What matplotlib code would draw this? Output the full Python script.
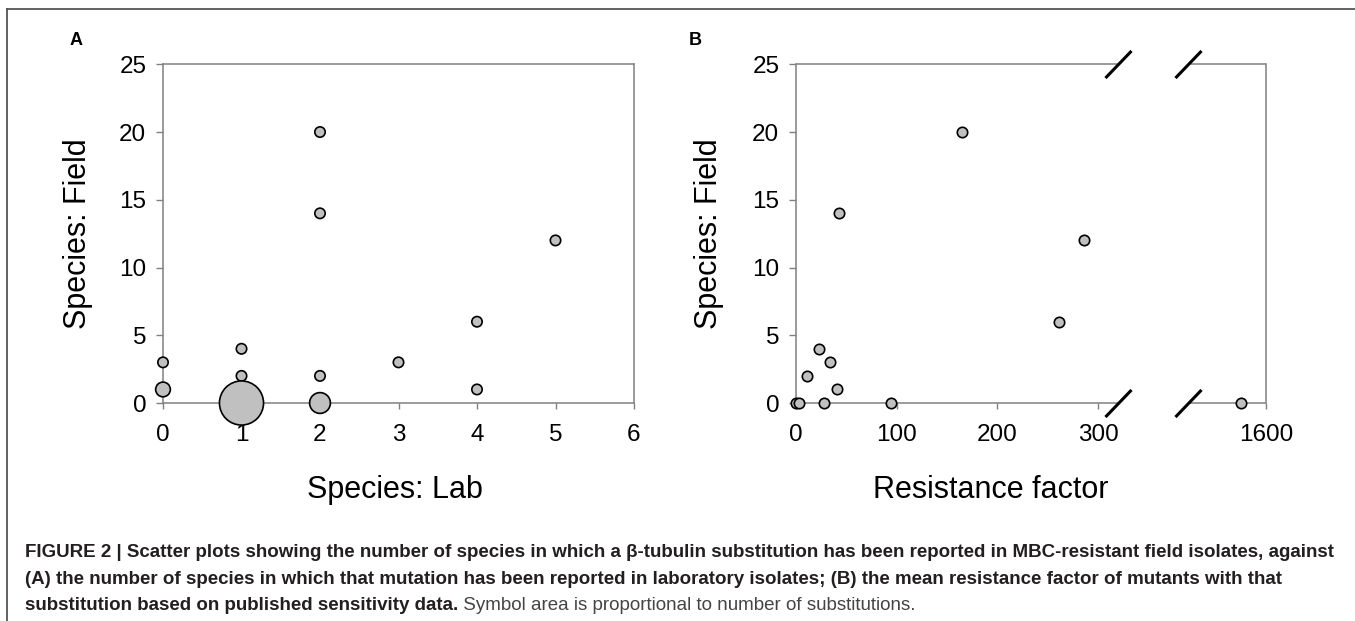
import numpy as np
import matplotlib
matplotlib.use("Agg")
import matplotlib.pyplot as plt
from matplotlib.lines import Line2D
import matplotlib.transforms as mtransforms

# ---------------- data ----------------
lab_species = [0, 0, 1, 1, 1, 2, 2, 2, 2, 3, 4, 4, 5]
field_species_a = [3, 1, 4, 2, 0, 20, 14, 2, 0, 3, 6, 1, 12]
substitutions_a = [1, 2, 1, 1, 18, 1, 1, 1, 4, 1, 1, 1, 1]

resistance_factor = [0, 3, 11, 23, 34, 41, 43, 28, 94, 165, 261, 286, 1380]
field_species_b = [0, 0, 2, 4, 3, 1, 14, 0, 0, 20, 6, 12, 0]

x_ticks_a = [0, 1, 2, 3, 4, 5, 6]
x_ticks_b = [0, 100, 200, 300, 1600]
y_ticks = [0, 5, 10, 15, 20, 25]

# ---------------- style ----------------
FONT = ["Liberation Sans", "DejaVu Sans"]
plt.rcParams["font.family"] = FONT
SPINE = "#808080"
FILL = "#c0c0c0"
BASE_S = 56  # marker area (pt^2) for one substitution
TICK_FS = 17.5

W, H = 1355, 621
fig = plt.figure(figsize=(W / 100, H / 100), dpi=100)


def fx(px):
    return px / W


def fy(py):
    return (H - py) / H


# broken x-scale for panel B
BRK = 320.0
K = (466.7 - BRK) / (1600 - BRK)


def fwd(v):
    v = np.asarray(v, dtype=float)
    return np.where(v <= BRK, v, BRK + (v - BRK) * K)


def inv(d):
    d = np.asarray(d, dtype=float)
    return np.where(d <= BRK, d, BRK + (d - BRK) / K)


def style_axes(ax):
    for s in ax.spines.values():
        s.set_color(SPINE)
        s.set_linewidth(1.1)
    ax.tick_params(axis="x", direction="out", length=4, width=1.0, color=SPINE,
                   labelsize=TICK_FS, pad=11)
    ax.tick_params(axis="y", direction="out", length=5, width=1.0, color=SPINE,
                   labelsize=TICK_FS, pad=7)
    ax.set_ylim(0, 25)
    ax.set_yticks(y_ticks)


# ---------------- panel A ----------------
axA = fig.add_axes([fx(163), fy(403), fx(634) - fx(163), fy(64.3) - fy(403)])
style_axes(axA)
axA.scatter(lab_species, field_species_a, s=[BASE_S * c for c in substitutions_a],
            facecolor=FILL, edgecolor="black", linewidth=1.2, zorder=3, clip_on=False)
axA.set_xlim(0, 6)
axA.set_xticks(x_ticks_a)

# ---------------- panel B ----------------
axB = fig.add_axes([fx(796), fy(403), fx(1266) - fx(796), fy(64.3) - fy(403)])
style_axes(axB)
axB.set_xscale("function", functions=(fwd, inv))
axB.set_xlim(0, 1600)
axB.set_xticks(x_ticks_b)
axB.set_xticklabels([str(t) for t in x_ticks_b])
axB.scatter(resistance_factor, field_species_b, s=BASE_S,
            facecolor=FILL, edgecolor="black", linewidth=1.2, zorder=3, clip_on=False)

# broken top/bottom spines with slash marks
b1 = float(inv(319.7))
b2 = float(inv(389.7))
axB.spines["top"].set_visible(False)
axB.spines["bottom"].set_visible(False)
blend = mtransforms.blended_transform_factory(axB.transData, axB.transAxes)
for yy in (0, 1):
    axB.plot([0, b1], [yy, yy], color=SPINE, lw=1.1, transform=blend,
             clip_on=False, zorder=2.5, solid_capstyle="butt")
    axB.plot([b2, 1600], [yy, yy], color=SPINE, lw=1.1, transform=blend,
             clip_on=False, zorder=2.5, solid_capstyle="butt")
    axB.plot([b1, b2], [yy, yy], linestyle="none", marker=[(-1, -1.04), (1, 1.04)],
             markersize=19.5, markeredgewidth=2.2, color="black",
             transform=blend, clip_on=False, zorder=4)

# ---------------- texts ----------------
fig.text(fx(70), fy(45), "A", fontsize=13, fontweight="bold", ha="left", va="baseline")
fig.text(fx(689), fy(45), "B", fontsize=13, fontweight="bold", ha="left", va="baseline")

fig.text(fx(394.5), fy(498), "Species: Lab", fontsize=22, ha="center", va="baseline")
fig.text(fx(991), fy(498), "Resistance factor", fontsize=22, ha="center", va="baseline")
fig.text(fx(78), fy(234), "Species: Field", fontsize=22, rotation=90,
         ha="center", va="center")
fig.text(fx(709), fy(234), "Species: Field", fontsize=22, rotation=90,
         ha="center", va="center")

CAP = "#231f20"
CAP_FS = 13.5
line1 = ("FIGURE 2 | Scatter plots showing the number of species in which a \u03b2-tubulin "
         "substitution has been reported in MBC-resistant field isolates, against")
line2 = ("(A) the number of species in which that mutation has been reported in laboratory "
         "isolates; (B) the mean resistance factor of mutants with that")
line3b = "substitution based on published sensitivity data."
line3r = " Symbol area is proportional to number of substitutions."
fig.text(fx(25), fy(557), line1, fontsize=CAP_FS, fontweight="bold", color=CAP,
         ha="left", va="baseline")
fig.text(fx(25), fy(584), line2, fontsize=CAP_FS, fontweight="bold", color=CAP,
         ha="left", va="baseline")
t3 = fig.text(fx(25), fy(610), line3b, fontsize=CAP_FS, fontweight="bold", color=CAP,
              ha="left", va="baseline")
fig.canvas.draw()
bb = t3.get_window_extent()
fig.text(bb.x1 / W, fy(610), line3r, fontsize=CAP_FS, color="#444444",
         ha="left", va="baseline")

# frame lines (left & top)
fig.add_artist(Line2D([fx(7), 1.0], [fy(9), fy(9)], color="#555555", lw=1.3,
                      transform=fig.transFigure))
fig.add_artist(Line2D([fx(7), fx(7)], [0, fy(9)], color="#555555", lw=1.3,
                      transform=fig.transFigure))

fig.savefig("out.png", dpi=100)
